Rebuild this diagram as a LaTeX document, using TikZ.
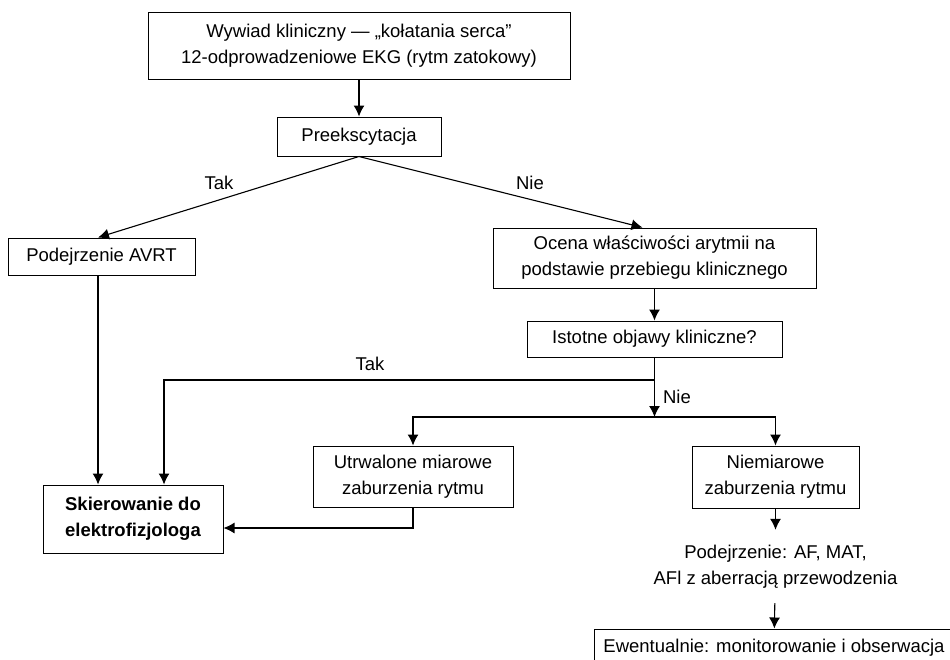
\documentclass[tikz,border=0pt]{standalone}
\usepackage{fontspec}
\setmainfont{Liberation Sans}
\usetikzlibrary{arrows.meta}

\begin{document}
\begin{tikzpicture}[x=1pt,y=-1pt,
		box/.style={draw=black,line width=1pt,inner sep=0pt,align=center},
		arr/.style={black,line width=1.1pt,-{Latex[length=11pt,width=11pt]}},
		lbl/.style={inner sep=0pt},
		every node/.append style={font=\fontsize{18.5}{26}\selectfont}]
			\useasboundingbox (0,0) rectangle (950,659);
			\clip (0,0) rectangle (950,659);
			\node [box,minimum width=422pt,minimum height=67pt] (wywiad) at (359,45.5) {Wywiad kliniczny — „kołatania serca”\\12-odprowadzeniowe EKG (rytm zatokowy)};
			\node [box,minimum width=164pt,minimum height=39pt] (preeks) at (359,136.5) {Preekscytacja};
			\node [box,minimum width=187pt,minimum height=37pt] (avrt) at (101.5,256.5) {Podejrzenie AVRT};
			\node [box,minimum width=323pt,minimum height=60pt] (ocena) at (654.5,258) {Ocena właściwości arytmii na\\podstawie przebiegu klinicznego};
			\node [box,minimum width=255pt,minimum height=36pt] (objawy) at (654.5,339) {Istotne objawy kliniczne?};
			\node [box,minimum width=180pt,minimum height=68pt] (skier) at (133,519) {\textbf{Skierowanie do}\\\textbf{elektrofizjologa}};
			\node [box,minimum width=200pt,minimum height=61pt] (miarowe) at (413,476.5) {Utrwalone miarowe\\zaburzenia rytmu};
			\node [box,minimum width=167pt,minimum height=62pt] (niemiarowe) at (775.5,477) {Niemiarowe\\zaburzenia rytmu};
			\node [lbl,align=center,minimum height=73pt] (podejrz) at (775.5,566.5) {Podejrzenie: AF, MAT,\\AFl z aberracją przewodzenia};
			\node [box,minimum width=360pt,minimum height=37pt] (ewent) at (774,647.5) {Ewentualnie: monitorowanie i obserwacja};
			% etykiety
			\node [lbl] (takA) at (219,183) {Tak};
			\node [lbl] (nieA) at (530,183) {Nie};
			\node [lbl] (takB) at (370,364) {Tak};
			\node [lbl] (nieB) at (677,397) {Nie};
			% punkty rozgalezien
			\coordinate (rozw) at (654.5,380);
			\coordinate (wezel) at (654.5,417);
			\draw [arr] (wywiad) -- (preeks);
			\draw [arr] (preeks.south) -- ([xshift=-3.5pt]avrt.north);
			\draw [arr] (preeks.south) -- ([xshift=-12pt]ocena.north);
			\draw [arr] ([xshift=-3.5pt]avrt.south) -- ([xshift=-3.5pt]avrt.south |- skier.north);
			\draw [arr] (ocena) -- (objawy);
			\draw [arr] (objawy.south) -- (wezel);
			\draw [arr] (rozw) -| ([xshift=31pt]skier.north);
			\draw [arr] (wezel) -| (miarowe);
			\draw [arr] (wezel) -| (niemiarowe);
			\draw [arr] (miarowe.south) |- ([yshift=-9pt]skier.east);
			\draw [arr] (niemiarowe) -- (podejrz);
			\draw [arr] (podejrz) -- (ewent);
		\end{tikzpicture}
\end{document}
